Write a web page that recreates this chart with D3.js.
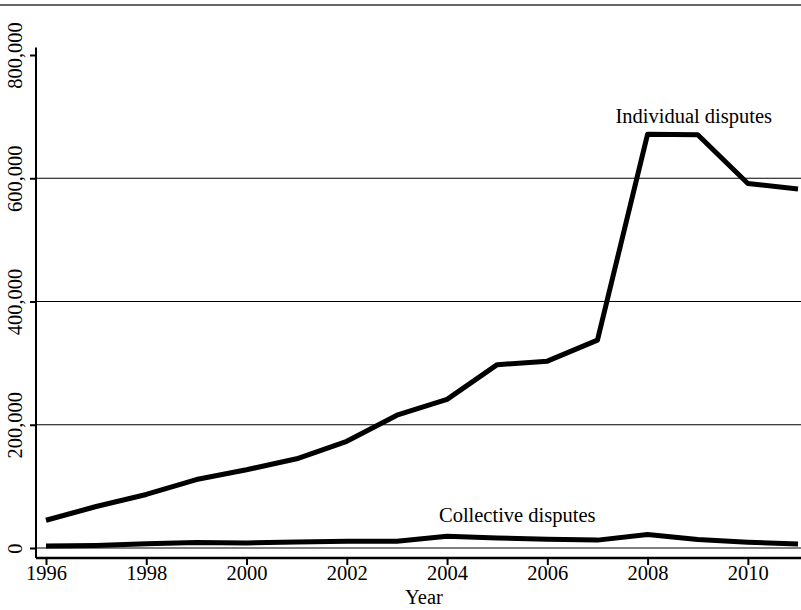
<!DOCTYPE html>
<html>
<head>
<meta charset="utf-8">
<script src="https://cdn.jsdelivr.net/npm/d3@7"></script>
<style>
  body { margin: 0; background: #fff; }
  svg { display: block; font-family: "Liberation Serif", "Times New Roman", serif; }
</style>
</head>
<body>
<svg id="chart" width="801" height="610"></svg>
<script>
// Data
const years = [1996, 1997, 1998, 1999, 2000, 2001, 2002, 2003, 2004, 2005, 2006, 2007, 2008, 2009, 2010, 2011];
const individualDisputes = [45000, 67400, 86900, 111100, 127000, 144800, 173100, 215500, 241200, 297500, 303200, 337400, 671600, 670600, 591500, 582600];
const collectiveDisputes = [3150, 4100, 6800, 9000, 8200, 9800, 11000, 10800, 19200, 16200, 14000, 12800, 21900, 13800, 9300, 6600];
const xTickLabels = [1996, 1998, 2000, 2002, 2004, 2006, 2008, 2010];
const yTickLabels = [0, 200000, 400000, 600000, 800000];
const gridValues = [0, 200000, 400000, 600000];
const seriesLabels = [
  { name: "Individual disputes", year: 2008.92, value: 690000 },
  { name: "Collective disputes", year: 2005.4, value: 41500 }
];

var width = 801, height = 610;
var axisX = 36, axisY = 558;

var svg = d3.select("#chart");

// scales
var x = d3.scaleLinear().domain([1996, 2011]).range([46, 798]);
var y = d3.scaleLinear().domain([0, 800000]).range([548, 55]);

// top rule
svg.append("line")
  .attr("x1", 0).attr("x2", width)
  .attr("y1", 5).attr("y2", 5)
  .attr("stroke", "#666")
  .attr("stroke-width", 2);

// horizontal grid lines
svg.append("g")
  .selectAll("line")
  .data(gridValues)
  .enter()
  .append("line")
  .attr("x1", axisX).attr("x2", width)
  .attr("y1", (d) => y(d)).attr("y2", (d) => y(d))
  .attr("stroke", "#000")
  .attr("stroke-width", 1.2);

// Y axis
var yAxis = svg.append("g")
  .attr("transform", "translate(" + axisX + ",0)")
  .call(d3.axisLeft(y).tickValues(yTickLabels).tickSize(6).tickFormat(d3.format(",")));
yAxis.select(".domain").remove();
yAxis.selectAll(".tick line").attr("stroke", "#000").attr("stroke-width", 2);
yAxis.selectAll(".tick text")
  .attr("x", 0).attr("dy", 0)
  .attr("transform", "translate(-14,0) rotate(-90)")
  .style("text-anchor", "middle")
  .style("font-family", "Liberation Serif")
  .style("font-size", "20.5px")
  .attr("fill", "#000");

svg.append("line")
  .attr("x1", axisX).attr("x2", axisX)
  .attr("y1", y(812000)).attr("y2", axisY)
  .attr("stroke", "#000")
  .attr("stroke-width", 2);

// X axis
var xAxis = svg.append("g")
  .attr("transform", "translate(0," + axisY + ")")
  .call(d3.axisBottom(x).tickValues(xTickLabels).tickSize(7).tickFormat(d3.format("d")));
xAxis.select(".domain").remove();
xAxis.selectAll(".tick line").attr("stroke", "#000").attr("stroke-width", 2);
xAxis.selectAll(".tick text")
  .attr("y", 22).attr("dy", 0)
  .style("font-family", "Liberation Serif")
  .style("font-size", "20.5px")
  .attr("fill", "#000");

svg.append("line")
  .attr("x1", axisX).attr("x2", width)
  .attr("y1", axisY).attr("y2", axisY)
  .attr("stroke", "#000")
  .attr("stroke-width", 2.5);

svg.append("text")
  .attr("x", (x(1996) + x(2011)) / 2 + 2)
  .attr("y", 604)
  .attr("text-anchor", "middle")
  .style("font-size", "20.5px")
  .text("Year");

// series lines
var line = d3.line()
  .x((d, i) => x(years[i]))
  .y((d) => y(d));

[individualDisputes, collectiveDisputes].forEach(function (series) {
  svg.append("path")
    .datum(series)
    .attr("fill", "none")
    .attr("stroke", "#000")
    .attr("stroke-width", 5)
    .attr("stroke-linejoin", "round")
    .attr("d", line);
});

// series labels
svg.selectAll("text.series")
  .data(seriesLabels)
  .enter()
  .append("text")
  .attr("class", "series")
  .attr("x", (d) => x(d.year))
  .attr("y", (d) => y(d.value))
  .attr("text-anchor", "middle")
  .style("font-size", "20.5px")
  .text((d) => d.name);
</script>
</body>
</html>
